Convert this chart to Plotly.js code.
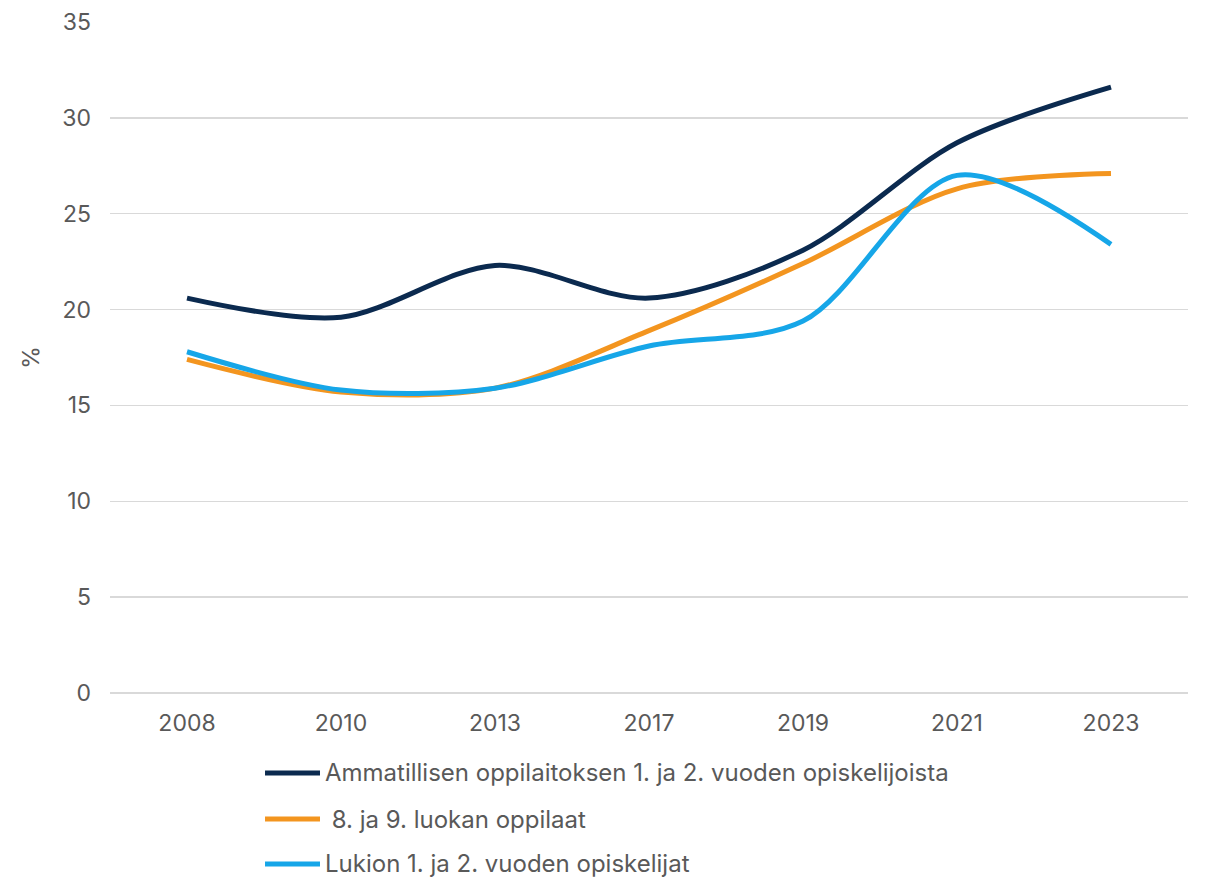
<!DOCTYPE html>
<html>
<head>
<meta charset="utf-8">
<script src="https://cdn.plot.ly/plotly-3.0.1.min.js"></script>
<style>html,body{margin:0;padding:0;background:#fff;}#chart{width:1206px;height:880px;}</style>
</head>
<body>
<div id="chart"></div>
<script>
const years = ["2008", "2010", "2013", "2017", "2019", "2021", "2023"];
const ammatillinen = [20.6, 19.6, 22.3, 20.6, 23.1, 28.7, 31.6];
const perusopetus = [17.4, 15.7, 15.9, 18.9, 22.4, 26.3, 27.1];
const lukio = [17.8, 15.8, 15.9, 18.1, 19.4, 27.0, 23.4];
const seriesNames = [
  "Ammatillisen oppilaitoksen 1. ja 2. vuoden opiskelijoista",
  " 8. ja 9. luokan oppilaat",
  "Lukion 1. ja 2. vuoden opiskelijat"
];
const colors = ["#0B2A4F", "#F3951F", "#16A6E8"];
const seriesValues = [ammatillinen, perusopetus, lukio];

const traces = seriesValues.map((vals, i) => ({
  type: "scatter",
  mode: "lines",
  x: years,
  y: vals,
  name: seriesNames[i],
  line: {color: colors[i], width: 5, shape: "spline", smoothing: 0.9},
  hoverinfo: "x+y"
}));

// custom legend (below the plot), built from the series names/colours
const legendY = [-0.1192, -0.1878, -0.2548];
const legendShapes = seriesNames.map((n, i) => ({
  type: "line", xref: "paper", yref: "paper",
  x0: 0.1438, x1: 0.1948, y0: legendY[i], y1: legendY[i],
  line: {color: colors[i], width: 5}
}));
const legendAnn = seriesNames.map((n, i) => ({
  xref: "paper", yref: "paper", x: 0.1976, y: legendY[i],
  xanchor: "left", yanchor: "middle", showarrow: false,
  text: n.replace(/^ /, "&nbsp;"),
  font: {size: 24, color: "#595959"}
}));

const layout = {
  width: 1206,
  height: 880,
  margin: {l: 110, r: 18, t: 22, b: 187},
  paper_bgcolor: "#fff",
  plot_bgcolor: "#fff",
  font: {family: "Inter, 'Noto Sans', sans-serif", size: 23, color: "#595959"},
  showlegend: false,
  shapes: legendShapes,
  annotations: legendAnn,
  xaxis: {
    type: "category",
    range: [-0.5, 6.5],
    showgrid: false,
    zeroline: false,
    showline: false,
    ticks: "",
    ticklabelstandoff: 14,
    tickfont: {size: 23, color: "#595959"}
  },
  yaxis: {
    range: [0, 35],
    dtick: 5,
    tick0: 0,
    showgrid: true,
    gridcolor: "#D9D9D9",
    gridwidth: 1.5,
    zeroline: true,
    zerolinecolor: "#D9D9D9",
    zerolinewidth: 1.5,
    showline: false,
    ticks: "",
    ticklabelstandoff: 18,
    tickfont: {size: 23, color: "#595959"},
    title: {text: "%", font: {size: 23, color: "#595959"}, standoff: 16}
  }
};

Plotly.newPlot("chart", traces, layout, {displayModeBar: false, staticPlot: true});
</script>
</body>
</html>
